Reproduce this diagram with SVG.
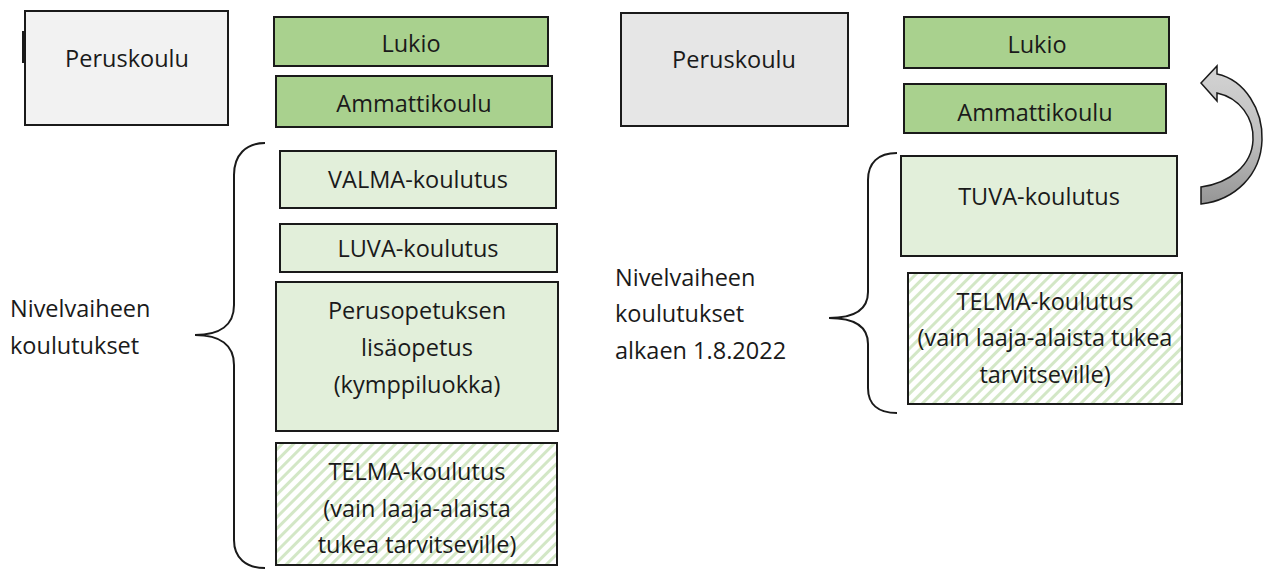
<svg xmlns="http://www.w3.org/2000/svg" width="1268" height="570" viewBox="0 0 1268 570">
<defs>
<pattern id="hatch" patternUnits="userSpaceOnUse" width="8" height="8" patternTransform="rotate(45)">
<rect width="8" height="8" fill="#ffffff"/>
<rect x="0" y="0" width="3" height="8" fill="#d3e7c6"/>
</pattern>
<linearGradient id="arrowGrad" x1="0" y1="0" x2="0" y2="1">
<stop offset="0" stop-color="#d4d4d4"/>
<stop offset="0.55" stop-color="#bdbdbd"/>
<stop offset="1" stop-color="#959595"/>
</linearGradient>
</defs>
<style>
.box{stroke:#1a1a1a;stroke-width:2}
.dark{fill:#a9d18e}
.light{fill:#e2efda}
.hatch{fill:url(#hatch)}
.t{font-family:"Open Sans","Liberation Sans",sans-serif;font-size:23.5px;fill:#1a1a1a;text-anchor:middle}
.tl{font-family:"Open Sans","Liberation Sans",sans-serif;font-size:23.5px;fill:#1a1a1a}
.brace{fill:none;stroke:#1a1a1a;stroke-width:2}
</style>
<rect width="1268" height="570" fill="#ffffff"/>

<g id="left-peruskoulu">
<rect class="box" x="25" y="11" width="203" height="114" fill="#f2f2f2"/>
<line x1="23" y1="31" x2="23" y2="63" stroke="#1a1a1a" stroke-width="2"/>
<text class="t" x="127" y="67">Peruskoulu</text>
</g>
<g id="left-lukio">
<rect class="box dark" x="274" y="17" width="274" height="49"/>
<text class="t" x="411" y="52">Lukio</text>
</g>
<g id="left-ammattikoulu">
<rect class="box dark" x="276" y="76" width="276" height="51"/>
<text class="t" x="414" y="112">Ammattikoulu</text>
</g>
<g id="left-valma">
<rect class="box light" x="280" y="151" width="276" height="57"/>
<text class="t" x="418" y="188">VALMA-koulutus</text>
</g>
<g id="left-luva">
<rect class="box light" x="280" y="224" width="277" height="48"/>
<text class="t" x="418" y="257">LUVA-koulutus</text>
</g>
<g id="left-perusopetus">
<rect class="box light" x="276" y="282" width="282" height="149"/>
<text class="t" x="417" y="319">Perusopetuksen</text>
<text class="t" x="417" y="356">lisäopetus</text>
<text class="t" x="417" y="393">(kymppiluokka)</text>
</g>
<g id="left-telma">
<rect class="box hatch" x="276" y="443" width="281" height="122"/>
<text class="t" x="417" y="480">TELMA-koulutus</text>
<text class="t" x="417" y="517">(vain laaja-alaista</text>
<text class="t" x="417" y="553">tukea tarvitseville)</text>
</g>
<g id="left-label">
<text class="tl" x="10" y="317">Nivelvaiheen</text>
<text class="tl" x="10" y="354">koulutukset</text>
</g>

<g id="right-peruskoulu">
<rect class="box" x="621" y="13" width="227" height="113" fill="#e6e6e6"/>
<text class="t" x="734" y="68">Peruskoulu</text>
</g>
<g id="right-lukio">
<rect class="box dark" x="904" y="17" width="265" height="51"/>
<text class="t" x="1037" y="53">Lukio</text>
</g>
<g id="right-ammattikoulu">
<rect class="box dark" x="904" y="84" width="262" height="49"/>
<text class="t" x="1035" y="121">Ammattikoulu</text>
</g>
<g id="right-tuva">
<rect class="box light" x="901" y="156" width="276" height="100"/>
<text class="t" x="1039" y="205">TUVA-koulutus</text>
</g>
<g id="right-telma">
<rect class="box hatch" x="908" y="273" width="274" height="131"/>
<text class="t" x="1045" y="310">TELMA-koulutus</text>
<text class="t" x="1045" y="346">(vain laaja-alaista tukea</text>
<text class="t" x="1045" y="383">tarvitseville)</text>
</g>
<g id="right-label">
<text class="tl" x="615" y="286">Nivelvaiheen</text>
<text class="tl" x="615" y="322">koulutukset</text>
<text class="tl" x="615" y="359">alkaen 1.8.2022</text>
</g>

<g id="connectors">
<path class="brace" d="M265,143 C246,143 234,155 234,175 L234,305 C234,325 220,335 195,335 C220,335 234,345 234,365 L234,540 C234,558 246,568 265,568"/>
<path class="brace" d="M897,153 C878,153 868,163 868,180 L868,292 C868,310 855,318 829,318 C855,318 868,326 868,344 L868,388 C868,404 878,413 897,413"/>
<path d="M1201,83 L1217,66 L1217,74 C1245,80 1263,110 1262,140 C1261,175 1235,200 1201,204 L1201,187 C1230,183 1252,165 1253,140 C1254,118 1240,98 1217,93 L1217,101 Z" fill="url(#arrowGrad)" stroke="#1a1a1a" stroke-width="1.5" stroke-linejoin="miter"/>
</g>
</svg>
